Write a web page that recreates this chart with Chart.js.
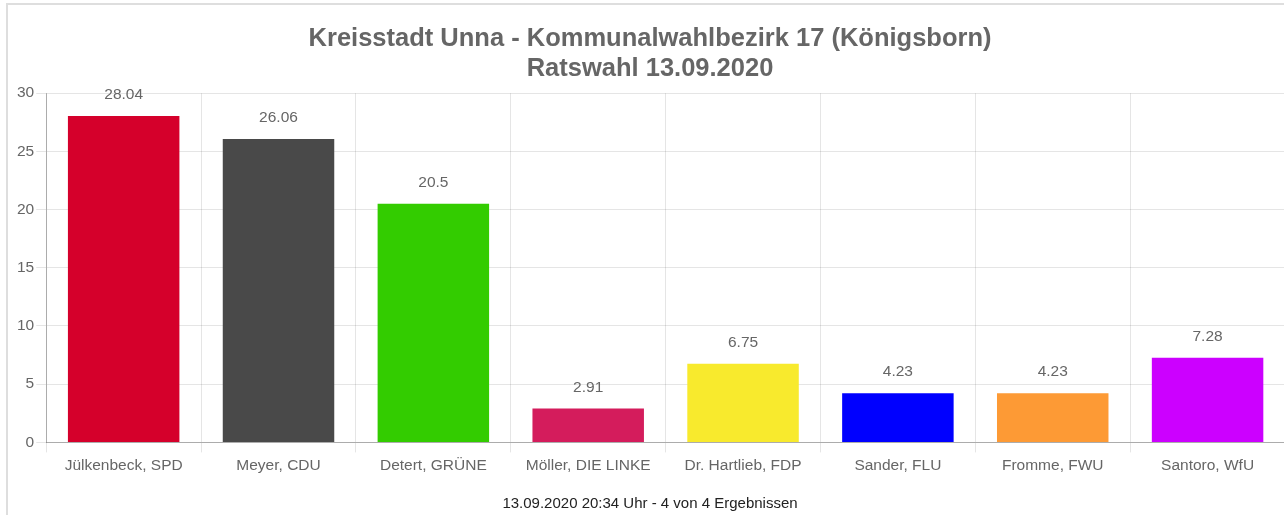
<!DOCTYPE html>
<html>
<head>
<meta charset="utf-8">
<script src="https://cdn.jsdelivr.net/npm/chart.js@4/dist/chart.umd.min.js"></script>
<style>
  html, body { margin: 0; padding: 0; background: #fff; overflow: hidden; }
  #frame {
    position: absolute;
    left: 6px;
    top: 3px;
    width: 1300px;
    height: 540px;
    border: 2px solid #dedede;
  }
  #wrap {
    position: absolute;
    left: 1px;
    top: 1px;
    width: 1276px;
    height: 512px;
  }
</style>
</head>
<body>
<div id="frame">
  <div id="wrap"><canvas id="chart"></canvas></div>
</div>
<script>
// Kandidaten / Parteien
const labels = [
  'Jülkenbeck, SPD',
  'Meyer, CDU',
  'Detert, GRÜNE',
  'Möller, DIE LINKE',
  'Dr. Hartlieb, FDP',
  'Sander, FLU',
  'Fromme, FWU',
  'Santoro, WfU',
];
// Stimmenanteil in Prozent
const values = [28.04, 26.06, 20.5, 2.91, 6.75, 4.23, 4.23, 7.28];
const barColors = [
  '#d5002b', '#494949', '#33cc00', '#d41c5c',
  '#f8ea2d', '#0000ff', '#fd9a35', '#cc00ff',
];
const yTicks = [0, 5, 10, 15, 20, 25, 30];

const titleLines = [
  'Kreisstadt Unna - Kommunalwahlbezirk 17 (Königsborn)',
  'Ratswahl 13.09.2020',
];
const footerText = '13.09.2020 20:34 Uhr - 4 von 4 Ergebnissen';

const FONT = '"Liberation Sans", Arial, sans-serif';

// Werte über den Balken
const valueLabels = {
  id: 'valueLabels',
  afterDatasetsDraw(chart) {
    const ctx = chart.ctx;
    ctx.save();
    ctx.font = `15.5px ${FONT}`;
    ctx.fillStyle = '#666';
    ctx.textAlign = 'center';
    ctx.textBaseline = 'middle';
    chart.data.datasets.forEach((ds, i) => {
      chart.getDatasetMeta(i).data.forEach((bar, j) => {
        ctx.fillText(String(ds.data[j]), bar.x, bar.y - 21);
      });
    });
    ctx.restore();
  },
};

new Chart(document.getElementById('chart').getContext('2d'), {
  type: 'bar',
  data: {
    labels,
    datasets: [
      {
        data: values,
        backgroundColor: barColors,
        borderWidth: 0,
      },
    ],
  },
  options: {
    responsive: true,
    maintainAspectRatio: false,
    animation: false,
    layout: { padding: { left: 6, right: 0, top: 0, bottom: 0 } },
    scales: {
      x: {
        grid: {
          color: 'rgba(0,0,0,0.1)',
          tickLength: 10,
        },
        border: { color: 'rgba(0,0,0,0.25)' },
        ticks: {
          color: '#666',
          font: { family: FONT, size: 15.5 },
          padding: 4,
          maxRotation: 0,
        },
      },
      y: {
        min: 0,
        max: 30,
        afterBuildTicks: (axis) => {
          axis.ticks = yTicks.map((v) => ({ value: v }));
        },
        grid: {
          color: 'rgba(0,0,0,0.1)',
          tickLength: 10,
        },
        border: { color: 'rgba(0,0,0,0.25)' },
        ticks: {
          color: '#666',
          font: { family: FONT, size: 15.5 },
          padding: 2,
        },
      },
    },
    plugins: {
      legend: { display: false },
      tooltip: { enabled: false },
      title: {
        display: true,
        text: titleLines,
        color: '#666',
        font: { family: FONT, size: 25.5, weight: 'bold', lineHeight: 1.18 },
        padding: { top: 18, bottom: 9 },
      },
      subtitle: {
        display: true,
        position: 'bottom',
        text: footerText,
        color: '#222',
        font: { family: FONT, size: 15 },
        padding: { top: 16, bottom: 5 },
      },
    },
  },
  plugins: [valueLabels],
});
</script>
</body>
</html>
